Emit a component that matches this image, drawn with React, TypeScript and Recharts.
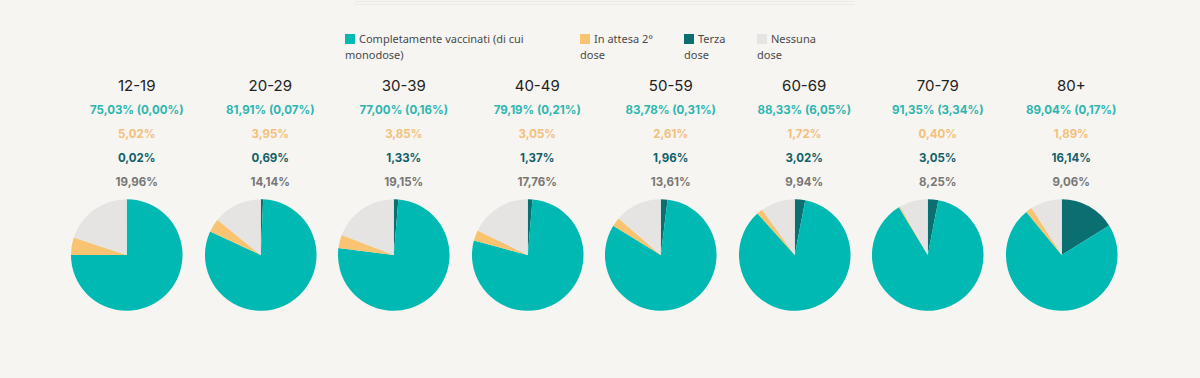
import { Cell, Pie, PieChart } from 'recharts';

const ageGroups = ['12-19', '20-29', '30-39', '40-49', '50-59', '60-69', '70-79', '80+'];
const completi = [75.03, 81.91, 77.0, 79.19, 83.78, 88.33, 91.35, 89.04];
const monodose = [0.0, 0.07, 0.16, 0.21, 0.31, 6.05, 3.34, 0.17];
const inAttesa = [5.02, 3.95, 3.85, 3.05, 2.61, 1.72, 0.4, 1.89];
const terzaDose = [0.02, 0.69, 1.33, 1.37, 1.96, 3.02, 3.05, 16.14];
const nessuna = [19.96, 14.14, 19.15, 17.76, 13.61, 9.94, 8.25, 9.06];

const legendLabels = ['Completamente vaccinati (di cui monodose)', 'In attesa 2° dose', 'Terza dose', 'Nessuna dose'];

const COLORS = {
  completi: '#00b9b2',
  attesa: '#f8c471',
  terza: '#0b6e71',
  nessuna: '#e6e4e2',
};
const TEXT = {
  completi: '#2db6b0',
  attesa: '#f4c07c',
  terza: '#10616a',
  nessuna: '#787776',
};

const legendColors = [COLORS.completi, COLORS.attesa, COLORS.terza, COLORS.nessuna];
const legendLayout = [
  { left: 345, width: 200 },
  { left: 580, width: 82 },
  { left: 684, width: 50 },
  { left: 757, width: 70 },
];

const fmt = (v: number) => `${v.toFixed(2).replace('.', ',')}%`;

function AgePie({ i }: { i: number }) {
  const data = [
    { name: 'terza', value: terzaDose[i], color: COLORS.terza },
    { name: 'completi', value: completi[i] - terzaDose[i], color: COLORS.completi },
    { name: 'attesa', value: inAttesa[i], color: COLORS.attesa },
    { name: 'nessuna', value: nessuna[i], color: COLORS.nessuna },
  ];
  return (
    <PieChart width={134} height={120} margin={{ top: 0, right: 0, bottom: 0, left: 0 }}>
      <Pie
        data={data}
        dataKey="value"
        cx="50%"
        cy="50%"
        outerRadius={56}
        innerRadius={0}
        startAngle={90}
        endAngle={-270}
        stroke="none"
        isAnimationActive={false}
      >
        {data.map((d) => (
          <Cell key={d.name} fill={d.color} />
        ))}
      </Pie>
    </PieChart>
  );
}

export default function App() {
  const numStyle = { fontFamily: 'Inter, sans-serif', fontSize: 11.5, fontWeight: 700, height: 24, lineHeight: '24px' };
  return (
    <div
      style={{
        position: 'absolute',
        left: 0,
        top: 0,
        width: 1200,
        height: 378,
        background: '#f6f5f1',
        overflow: 'hidden',
      }}
    >
      <div style={{ position: 'absolute', left: 355, top: 1, width: 500, height: 1, background: '#ebeae6' }} />
      <div style={{ position: 'absolute', left: 355, top: 4, width: 500, height: 1, background: '#ecebe7' }} />

      {legendLabels.map((label, k) => (
        <div
          key={label}
          style={{
            position: 'absolute',
            left: legendLayout[k].left,
            top: 31,
            width: legendLayout[k].width,
            fontFamily: '"Noto Sans", sans-serif',
            fontSize: 11,
            lineHeight: '16px',
            color: '#4a4a4a',
          }}
        >
          <span
            style={{
              display: 'inline-block',
              width: 10,
              height: 10,
              background: legendColors[k],
              marginRight: 4,
              verticalAlign: '-1px',
            }}
          />
          {label}
        </div>
      ))}

      <div style={{ position: 'absolute', left: 60, top: 74, display: 'flex' }}>
        {ageGroups.map((age, i) => (
          <div key={age} style={{ width: 133.5 }}>
            <div style={{ textAlign: 'center', paddingLeft: 20 }}>
              <div style={{ fontFamily: 'Inter, sans-serif', fontSize: 15, color: '#222', height: 24, lineHeight: '24px' }}>
                {age}
              </div>
              <div style={{ ...numStyle, color: TEXT.completi }}>
                {fmt(completi[i])} ({fmt(monodose[i])})
              </div>
              <div style={{ ...numStyle, color: TEXT.attesa }}>{fmt(inAttesa[i])}</div>
              <div style={{ ...numStyle, color: TEXT.terza }}>{fmt(terzaDose[i])}</div>
              <div style={{ ...numStyle, color: TEXT.nessuna }}>{fmt(nessuna[i])}</div>
            </div>
            <div style={{ marginTop: 1, display: 'flex', justifyContent: 'center' }}>
              <AgePie i={i} />
            </div>
          </div>
        ))}
      </div>
    </div>
  );
}
